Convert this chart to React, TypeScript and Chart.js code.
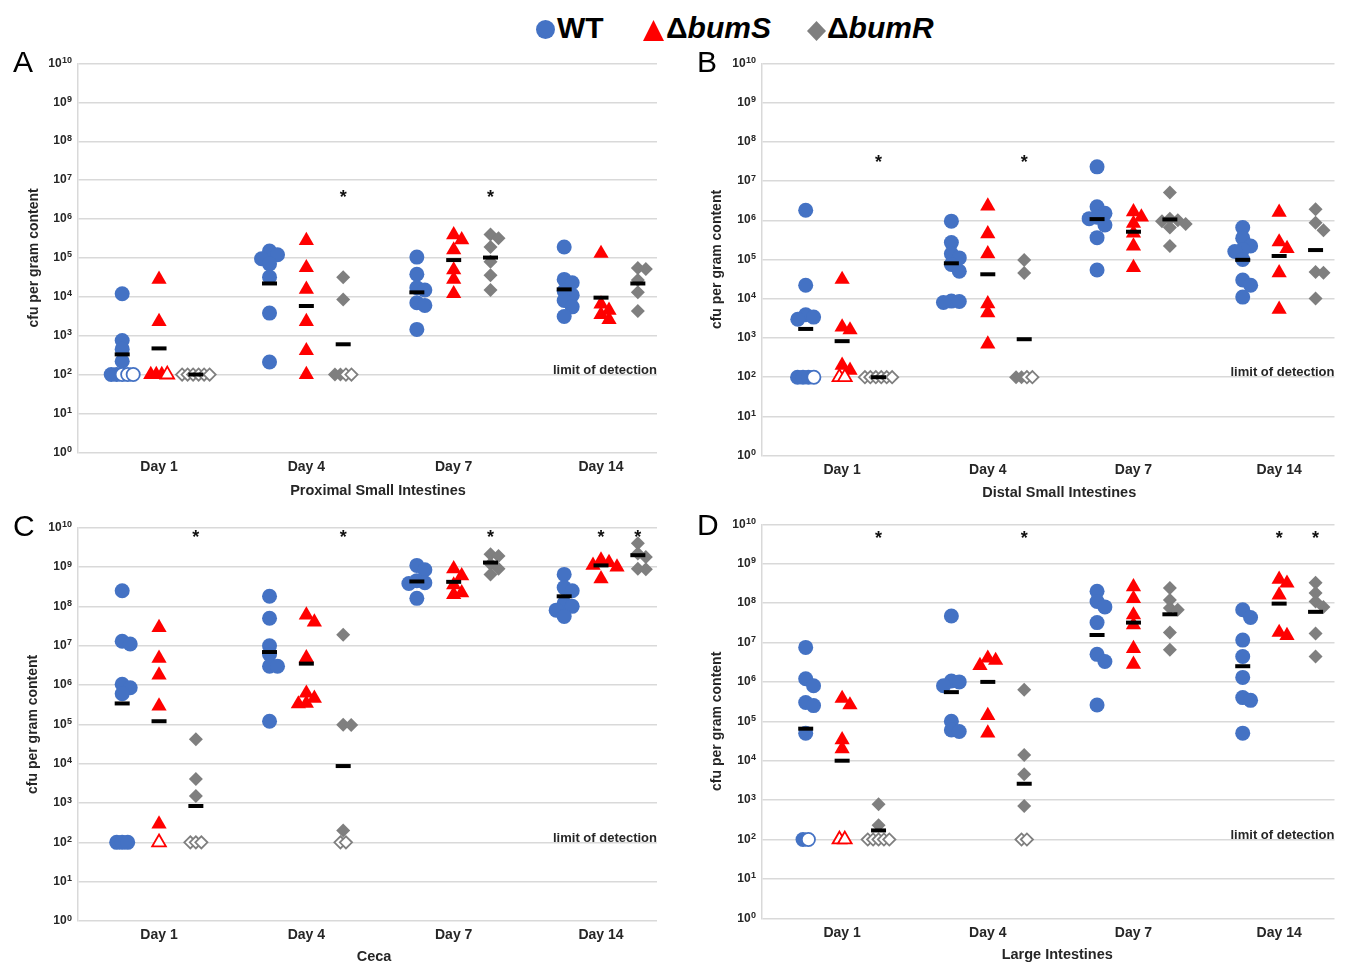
import React, { useEffect, useRef } from "react";
import { Chart, registerables } from "chart.js";

Chart.register(...registerables);

// ---------------- data ----------------
const DAYS = ["Day 1", "Day 4", "Day 7", "Day 14"];
const STRAINS = ["WT", "ΔbumS", "ΔbumR"];
const LIMIT_OF_DETECTION = 100;
const Y_EXPONENTS = [0, 1, 2, 3, 4, 5, 6, 7, 8, 9, 10];

// A — Proximal Small Intestines (values per day; open = mice below limit of detection)
const proxWT = [
  [1.2e4, 750, 450, 220, 100, 100],
  [1.5e5, 1.2e5, 9.5e4, 7e4, 3.2e4, 3.8e3, 210],
  [1.05e5, 3.8e4, 1.7e4, 1.5e4, 7e3, 6e3, 1.45e3],
  [1.9e5, 2.8e4, 2.3e4, 1.4e4, 1.1e4, 8e3, 5.5e3, 3.1e3],
];
const proxWTOpen = [3, 0, 0, 0];
const proxWTMedian = [330, 2.2e4, 1.3e4, 1.55e4];
const proxS = [
  [2.8e4, 2.3e3, 100, 100, 100],
  [2.8e5, 5.6e4, 1.55e4, 2.3e3, 410, 100],
  [3.9e5, 2.9e5, 1.6e5, 4.9e4, 2.8e4, 1.2e4],
  [1.3e5, 6.5e3, 4.5e3, 3.5e3, 2.6e3],
];
const proxSOpen = [1, 0, 0, 0];
const proxSMedian = [470, 5.8e3, 8.8e4, 9.5e3];
const proxR = [
  [],
  [3.2e4, 8.5e3, 100, 100],
  [4e5, 3.2e5, 1.9e5, 8e4, 3.6e4, 1.5e4],
  [5.5e4, 5.2e4, 2.7e4, 1.3e4, 4.3e3],
];
const proxROpen = [6, 2, 0, 0];
const proxRMedian = [100, 600, 1.02e5, 2.2e4];
const proxStars = [[1, 2], [2, 2]]; // [day index, strain index]
const proxStarLevel = 4.7e6;

// B — Distal Small Intestines
const distWT = [
  [1.8e6, 2.2e4, 3.9e3, 3.4e3, 3e3, 100, 100, 100],
  [9.5e5, 2.7e5, 1.4e5, 1.1e5, 7.5e4, 5e4, 8.5e3, 8e3, 8.7e3],
  [2.3e7, 2.2e6, 1.5e6, 1.2e6, 1.1e6, 7.6e5, 3.6e5, 5.4e4],
  [6.5e5, 3.5e5, 2.2e5, 1.8e5, 1.6e5, 1e5, 3e4, 2.2e4, 1.1e4],
];
const distWTOpen = [1, 0, 0, 0];
const distWTMedian = [1.7e3, 8e4, 1.07e6, 9.8e4];
const distS = [
  [3.1e4, 1.9e3, 1.6e3, 200, 150],
  [2.3e6, 4.5e5, 1.4e5, 7.4e3, 4.4e3, 700],
  [1.65e6, 1.2e6, 8.3e5, 4.7e5, 2.2e5, 6.2e4],
  [1.6e6, 2.8e5, 1.9e5, 4.6e4, 5.4e3],
];
const distSOpen = [2, 0, 0, 0];
const distSMedian = [830, 4.2e4, 5.1e5, 1.23e5];
const distR = [
  [],
  [9.7e4, 4.5e4, 100, 100],
  [5.1e6, 1.1e6, 1e6, 9.5e5, 8e5, 6.5e5, 2.2e5],
  [1.9e6, 8.7e5, 5.6e5, 4.8e4, 4.6e4, 1.02e4],
];
const distROpen = [6, 2, 0, 0];
const distRMedian = [100, 930, 1.05e6, 1.74e5];
const distStars = [[0, 2], [1, 2]];
const distStarLevel = 4e7;

// C — Ceca
const cecWT = [
  [2.5e8, 1.3e7, 1.1e7, 1.05e6, 8.5e5, 6e5, 100, 100, 100],
  [1.8e8, 5e7, 1e7, 6e6, 3e6, 3e6, 1.2e5],
  [1.1e9, 8.5e8, 4.5e8, 4e8, 3.8e8, 1.6e8],
  [6.5e8, 3e8, 2.5e8, 1.2e8, 1e8, 8e7, 5.5e7],
];
const cecWTOpen = [0, 0, 0, 0];
const cecWTMedian = [3.4e5, 6.9e6, 4.3e8, 1.8e8];
const cecS = [
  [2.9e7, 4.8e6, 1.8e6, 2.9e5, 290],
  [6e7, 4e7, 4.9e6, 6.2e5, 4.6e5, 3.4e5, 3.3e5],
  [9e8, 6e8, 3.5e8, 2.2e8, 2e8],
  [1.5e9, 1.3e9, 1.1e9, 1e9, 5e8],
];
const cecSOpen = [1, 0, 0, 0];
const cecSMedian = [1.2e5, 3.5e6, 4.2e8, 1.1e9];
const cecR = [
  [4.2e4, 4.1e3, 1.5e3],
  [1.9e7, 9.8e4, 9.6e4, 200],
  [2.1e9, 1.9e9, 1.2e9, 9e8, 6.5e8],
  [4e9, 2.2e9, 1.8e9, 9e8, 8.8e8],
];
const cecROpen = [3, 2, 0, 0];
const cecRMedian = [840, 8.7e3, 1.3e9, 2e9];
const cecStars = [[0, 2], [1, 2], [2, 2], [3, 1], [3, 2]];
const cecStarLevel = 7.4e9;

// D — Large Intestines
const lrgWT = [
  [7.5e6, 1.2e6, 8e5, 3e5, 2.5e5, 5e4, 100],
  [4.7e7, 1.05e6, 1e6, 8e5, 1e5, 6e4, 5.5e4],
  [2e8, 1.1e8, 8e7, 3.2e7, 5e6, 3.3e6, 2.6e5],
  [6.8e7, 4.3e7, 1.15e7, 4.4e6, 1.3e6, 4e5, 3.4e5, 5e4],
];
const lrgWTOpen = [1, 0, 0, 0];
const lrgWTMedian = [6.5e4, 5.5e5, 1.55e7, 2.5e6];
const lrgS = [
  [3.8e5, 2.6e5, 3.4e4, 2e4],
  [4e6, 3.5e6, 2.6e6, 1.4e5, 5e4],
  [2.6e8, 1.3e8, 5e7, 2.8e7, 7e6, 2.8e6],
  [4e8, 3.2e8, 1.6e8, 1.8e7, 1.5e7],
];
const lrgSOpen = [2, 0, 0, 0];
const lrgSMedian = [1e4, 1e6, 3.2e7, 9.7e7];
const lrgR = [
  [780, 230],
  [6.3e5, 1.4e4, 4.5e3, 710],
  [2.4e8, 1.2e8, 7.5e7, 6.8e7, 1.8e7, 6.5e6],
  [3.3e8, 1.8e8, 1.1e8, 8e7, 1.7e7, 4.4e6],
];
const lrgROpen = [5, 2, 0, 0];
const lrgRMedian = [170, 2.6e3, 5.2e7, 6e7];
const lrgStars = [[0, 2], [1, 2], [3, 1], [3, 2]];
const lrgStarLevel = 5.9e9;

// ---------------- style / layout ----------------
const FONT = '"Liberation Sans", Arial, Helvetica, sans-serif';
const TEXT = "#262626";
const BLUE = "#4472C4";
const RED = "#FF0000";
const GRAY = "#7F7F7F";
const GRID = "#d9d9d9";
const X_MIN = 0.45;
const X_MAX = 4.38;
const STRAIN_OFFSET = [-0.25, 0, 0.25];
const MARKERS = [
  { style: "circle", color: BLUE, r: 7.5 },
  { style: "triangle", color: RED, r: 8.8 },
  { style: "rectRot", color: GRAY, r: 7 },
];
const ROW_STEP = 5.5; // px between markers sitting on the detection limit
const SWARM_STEP = 8;
const SWARM_GAP = 8;

const PANELS = [
  {
    letter: "A",
    title: "Proximal Small Intestines",
    groups: [
      { values: proxWT, open: proxWTOpen, median: proxWTMedian },
      { values: proxS, open: proxSOpen, median: proxSMedian },
      { values: proxR, open: proxROpen, median: proxRMedian },
    ],
    stars: proxStars,
    starLevel: proxStarLevel,
    layout: {
      left: 0, top: 40, width: 673, height: 467,
      area: { left: 78, top: 23.5, right: 657, bottom: 412.3 },
      dayPad: 6.3, titleY: 450.7, titleDx: 10.5, yTitleX: 34, letterX: 13, letterY: 32,
    },
  },
  {
    letter: "B",
    title: "Distal Small Intestines",
    groups: [
      { values: distWT, open: distWTOpen, median: distWTMedian },
      { values: distS, open: distSOpen, median: distSMedian },
      { values: distR, open: distROpen, median: distRMedian },
    ],
    stars: distStars,
    starLevel: distStarLevel,
    layout: {
      left: 680, top: 40, width: 666, height: 467,
      area: { left: 82, top: 23.3, right: 661, bottom: 415.7 },
      dayPad: 5.9, titleY: 452.7, titleDx: 11, yTitleX: 37, letterX: 17, letterY: 32,
    },
  },
  {
    letter: "C",
    title: "Ceca",
    groups: [
      { values: cecWT, open: cecWTOpen, median: cecWTMedian },
      { values: cecS, open: cecSOpen, median: cecSMedian },
      { values: cecR, open: cecROpen, median: cecRMedian },
    ],
    stars: cecStars,
    starLevel: cecStarLevel,
    layout: {
      left: 0, top: 500, width: 673, height: 463,
      area: { left: 78, top: 27.7, right: 657, bottom: 421 },
      dayPad: 5.6, titleY: 457, titleDx: 6.5, yTitleX: 33, letterX: 13, letterY: 36,
    },
  },
  {
    letter: "D",
    title: "Large Intestines",
    groups: [
      { values: lrgWT, open: lrgWTOpen, median: lrgWTMedian },
      { values: lrgS, open: lrgSOpen, median: lrgSMedian },
      { values: lrgR, open: lrgROpen, median: lrgRMedian },
    ],
    stars: lrgStars,
    starLevel: lrgStarLevel,
    layout: {
      left: 680, top: 500, width: 666, height: 463,
      area: { left: 82, top: 24.3, right: 666, bottom: 418.3 },
      dayPad: 6, titleY: 455, titleDx: 9, yTitleX: 37.5, letterX: 17, letterY: 35,
    },
  },
];

// deterministic beeswarm: spreads overlapping markers sideways
function swarm(values: number[], openCount: number, pxPerDecade: number) {
  const out: { v: number; dx: number; open: boolean }[] = [];
  const atLimit = values.filter((v) => v <= LIMIT_OF_DETECTION);
  const above = values.filter((v) => v > LIMIT_OF_DETECTION).sort((a, b) => b - a);
  const n = atLimit.length + openCount;
  for (let i = 0; i < n; i++) {
    out.push({ v: LIMIT_OF_DETECTION, dx: (i - (n - 1) / 2) * ROW_STEP, open: i >= atLimit.length });
  }
  const placed: { dx: number; py: number }[] = [];
  for (const v of above) {
    const py = Math.log10(v) * pxPerDecade;
    let dx = 0;
    for (let k = 0; k < 40; k++) {
      const c = k === 0 ? 0 : (k % 2 === 1 ? 1 : -1) * Math.ceil(k / 2) * SWARM_STEP;
      if (placed.every((p) => Math.hypot(p.dx - c, p.py - py) >= SWARM_GAP)) {
        dx = c;
        break;
      }
    }
    placed.push({ dx, py });
    out.push({ v, dx, open: false });
  }
  return out;
}

function overlay(panel: any) {
  const L = panel.layout;
  return {
    id: "panelText",
    afterDraw(chart: any) {
      const { ctx, chartArea: a } = chart;
      const xs = chart.scales.x;
      const ys = chart.scales.y;
      ctx.save();
      ctx.fillStyle = TEXT;
      ctx.textAlign = "right";
      ctx.textBaseline = "alphabetic";
      Y_EXPONENTS.forEach((e) => {
        const py = ys.getPixelForValue(Math.pow(10, e));
        const sup = String(e);
        ctx.font = `bold 9px ${FONT}`;
        const w = ctx.measureText(sup).width;
        ctx.fillText(sup, a.left - 6, py - 0.5);
        ctx.font = `bold 12px ${FONT}`;
        ctx.fillText("10", a.left - 6 - w - 0.3, py + 3.2);
      });
      ctx.font = `bold 13px ${FONT}`;
      ctx.fillText("limit of detection", a.right, ys.getPixelForValue(LIMIT_OF_DETECTION) - 0.8);

      ctx.textAlign = "center";
      ctx.textBaseline = "middle";
      ctx.font = `bold 14.5px ${FONT}`;
      ctx.fillText(panel.title, (a.left + a.right) / 2 + L.titleDx, L.titleY);

      ctx.textBaseline = "alphabetic";
      ctx.fillStyle = "#111";
      ctx.font = `bold 18px ${FONT}`;
      panel.stars.forEach(([d, s]: number[]) => {
        ctx.fillText("*", xs.getPixelForValue(d + 1 + STRAIN_OFFSET[s]), ys.getPixelForValue(panel.starLevel) + 10.3);
      });

      ctx.textAlign = "left";
      ctx.fillStyle = "#000";
      ctx.font = `30px ${FONT}`;
      ctx.fillText(panel.letter, L.letterX, L.letterY);
      ctx.restore();
    },
  };
}

function Panel({ panel }: { panel: any }) {
  const ref = useRef<HTMLCanvasElement>(null);
  const L = panel.layout;
  useEffect(() => {
    const a = L.area;
    const pxPerUnit = (a.right - a.left) / (X_MAX - X_MIN);
    const pxPerDecade = (a.bottom - a.top) / 10;
    const datasets: any[] = [];
    const medians: any[] = [];
    panel.groups.forEach((g: any, s: number) => {
      const m = MARKERS[s];
      const filled: any[] = [];
      const hollow: any[] = [];
      g.values.forEach((vals: number[], d: number) => {
        const cx = d + 1 + STRAIN_OFFSET[s];
        swarm(vals, g.open[d], pxPerDecade).forEach((pt) => {
          (pt.open ? hollow : filled).push({ x: cx + pt.dx / pxPerUnit, y: pt.v });
        });
        medians.push({ x: cx, y: g.median[d] });
      });
      datasets.push({
        label: STRAINS[s],
        data: filled,
        pointStyle: m.style,
        pointRadius: m.r,
        pointBackgroundColor: m.color,
        pointBorderColor: m.color,
        pointBorderWidth: 0,
        clip: false,
        order: 3,
      });
      datasets.push({
        label: STRAINS[s] + " below limit of detection",
        data: hollow,
        pointStyle: m.style,
        pointRadius: m.r - 0.9,
        pointBackgroundColor: "#ffffff",
        pointBorderColor: m.color,
        pointBorderWidth: 1.8,
        clip: false,
        order: 2,
      });
    });
    datasets.push({
      label: "median",
      data: medians,
      pointStyle: "line",
      pointRadius: 7.5,
      pointBorderColor: "#000",
      pointBorderWidth: 4,
      clip: false,
      order: 0,
    });

    const chart = new Chart(ref.current as HTMLCanvasElement, {
      type: "scatter",
      data: { datasets },
      options: {
        responsive: false,
        animation: false,
        events: [],
        layout: { padding: { left: 0, top: a.top, right: L.width - a.right, bottom: 0 } },
        plugins: { legend: { display: false }, tooltip: { enabled: false } },
        scales: {
          x: {
            type: "linear",
            min: X_MIN,
            max: X_MAX,
            afterBuildTicks: (scale: any) => {
              scale.ticks = DAYS.map((_, i) => ({ value: i + 1 }));
            },
            afterFit: (scale: any) => {
              scale.height = L.height - a.bottom;
            },
            grid: { display: false, drawTicks: false },
            border: { display: false },
            ticks: {
              autoSkip: false,
              maxRotation: 0,
              padding: L.dayPad,
              color: TEXT,
              font: { family: FONT, size: 14, weight: "bold" },
              callback: (v: any) => DAYS[Math.round(Number(v)) - 1] ?? "",
            },
          },
          y: {
            type: "logarithmic",
            min: 1,
            max: 1e10,
            afterBuildTicks: (scale: any) => {
              scale.ticks = Y_EXPONENTS.map((e) => ({ value: Math.pow(10, e), major: true }));
            },
            afterFit: (scale: any) => {
              scale.width = a.left;
            },
            grid: { color: GRID, lineWidth: 1.5, drawTicks: false },
            border: { display: true, color: GRID, width: 1.5 },
            ticks: { display: false },
            title: {
              display: true,
              text: "cfu per gram content",
              color: TEXT,
              font: { family: FONT, size: 14, weight: "bold", lineHeight: 1.2 },
              padding: { top: L.yTitleX - 8.4, bottom: 0 },
            },
          },
        },
      },
      plugins: [overlay(panel)],
    } as any);
    return () => chart.destroy();
  }, [panel]);
  return (
    <canvas
      ref={ref}
      width={L.width}
      height={L.height}
      style={{ position: "absolute", left: L.left, top: L.top, width: L.width, height: L.height }}
    />
  );
}

function Legend() {
  const txt: React.CSSProperties = {
    position: "absolute",
    top: 12.6,
    font: `bold 30px ${FONT}`,
    lineHeight: "30px",
    color: "#000",
    whiteSpace: "nowrap",
  };
  return (
    <>
      <div style={{ position: "absolute", left: 536, top: 19.5, width: 19, height: 19, borderRadius: "50%", background: BLUE }} />
      <div style={{ ...txt, left: 557 }}>{STRAINS[0]}</div>
      <svg style={{ position: "absolute", left: 643, top: 20 }} width={21} height={21}>
        <polygon points="10.5,0 21,21 0,21" fill={RED} />
      </svg>
      <div style={{ ...txt, left: 666 }}>
        Δ<i>bumS</i>
      </div>
      <svg style={{ position: "absolute", left: 807, top: 21 }} width={19} height={20}>
        <polygon points="9.5,0 19,10 9.5,20 0,10" fill={GRAY} />
      </svg>
      <div style={{ ...txt, left: 827 }}>
        Δ<i>bumR</i>
      </div>
    </>
  );
}

export default function App() {
  return (
    <div
      style={{
        position: "absolute",
        left: 0,
        top: 0,
        width: 1346,
        height: 963,
        background: "#fff",
        overflow: "hidden",
        fontFamily: FONT,
      }}
    >
      <Legend />
      {PANELS.map((p) => (
        <Panel key={p.letter} panel={p} />
      ))}
    </div>
  );
}
